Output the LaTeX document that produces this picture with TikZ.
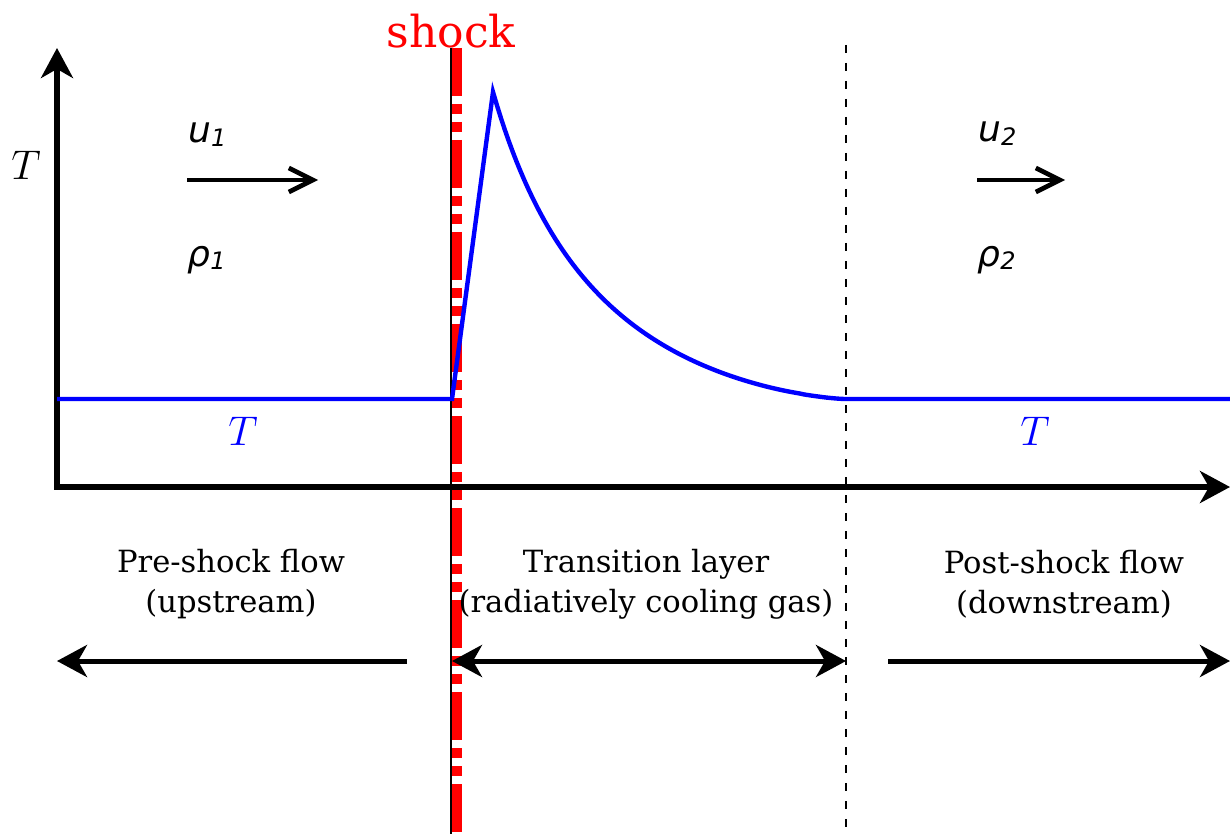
\documentclass[tikz,border=0pt]{standalone}
\usepackage{fontspec}
\setmainfont{DejaVu Serif}
\newfontfamily\dvsans{DejaVu Sans}
\usetikzlibrary{arrows.meta,positioning}
\newcommand{\flowvar}[2]{{\dvsans\itshape #1\raisebox{-0.2ex}{\fontsize{12}{12}\selectfont #2}}}

\begin{document}
\begin{tikzpicture}[
    x=0.5pt, y=-0.5pt,
    axis/.style={
      line width=2.6pt,
      line cap=rect,
      -{Stealth[length=15pt,width=16pt,inset=4.5pt]}
    },
    span/.style={
      line width=2.5pt
    },
    flowarrow/.style={
      line width=2.3pt,
      -{Straight Barb[length=12pt,width=12pt]}
    },
    tcurve/.style={
      blue,
      line width=2.2pt
    },
    regiontext/.style={
      font=\fontsize{15.3}{20}\selectfont,
      align=center,
      inner sep=0pt
    },
    varlbl/.style={
      font=\fontsize{18}{20}\selectfont,
      anchor=base west,
      inner sep=0pt
    },
    tlbl/.style={
      font=\fontsize{20}{22}\selectfont,
      anchor=base,
      inner sep=0pt
    }
  ]
  \useasboundingbox (0,0) rectangle (1230,834);

  % key points
  \coordinate (O) at (57,487);
  \coordinate (ytop) at (57,48);
  \coordinate (xend) at (1230,487);
  \coordinate (shtop) at (451,48);
  \coordinate (shbot) at (451,834);
  \coordinate (rdtop) at (457,48);
  \coordinate (rdbot) at (457,834);
  \coordinate (lytop) at (846,45);
  \coordinate (lybot) at (846,834);

  % shock front and end of the layer
  \draw[line width=1pt] (shtop) -- (shbot);
  \draw[red, line width=4.8pt,
    dash pattern=on 24pt off 4pt on 5pt off 4pt on 5pt off 4pt] (rdtop) -- (rdbot);
  \draw[line width=1pt, dash pattern=on 4pt off 5pt] (lytop) -- (lybot);
  \node[red, font=\fontsize{22}{24}\selectfont, anchor=base, inner sep=0pt]
    (shocklbl) at (451,48) {shock};

  % axes
  \draw[axis] (O) -- (ytop);
  \draw[axis] (O) -- (xend);
  \node[tlbl] (Taxis) at (26,180) {$T$};

  % temperature profile
  \draw[tcurve] (57,399) -- (452,399) -- (493,92)
    -- plot[domain=0:0.995, samples=90, variable=\t]
      ({493+352*\t}, {399-307*(1-\t)^1.4/(1+2.6*\t)})
    -- (845,399) -- (1230,399);
  \node[tlbl, blue] (Tpre) at (243,445) {$T$};
  \node[tlbl, blue] (Tpost) at (1035,445) {$T$};

  % flow variables
  \node[varlbl] (u1) at (188,143) {\flowvar{u}{1}};
  \node[varlbl] (rho1) at (187,266) {\flowvar{ρ}{1}};
  \node[varlbl] (u2) at (978,142) {\flowvar{u}{2}};
  \node[varlbl] (rho2) at (977,266) {\flowvar{ρ}{2}};
  \coordinate (u1a) at (187,180);
  \coordinate (u1b) at (318,180);
  \coordinate (u2a) at (977,180);
  \coordinate (u2b) at (1065,180);
  \draw[flowarrow] (u1a) -- (u1b);
  \draw[flowarrow] (u2a) -- (u2b);

  % regions
  \node[regiontext] (pre) at (231,584) {Pre-shock flow\\(upstream)};
  \node[regiontext] (layer) at (646,584) {Transition layer\\(radiatively cooling gas)};
  \node[regiontext] (post) at (1064,584) {Post-shock flow\\(downstream)};

  \coordinate (preA) at (407,661);
  \coordinate (preB) at (57,661);
  \coordinate (layA) at (452,661);
  \coordinate (layB) at (846,661);
  \coordinate (postA) at (888,661);
  \coordinate (postB) at (1230,661);
  \draw[span, -{Stealth[length=15pt,width=16pt,inset=4.5pt]}] (preA) -- (preB);
  \draw[span, {Stealth[length=15pt,width=16pt,inset=4.5pt]}-{Stealth[length=15pt,width=16pt,inset=4.5pt]}] (layA) -- (layB);
  \draw[span, -{Stealth[length=15pt,width=16pt,inset=4.5pt]}] (postA) -- (postB);

\end{tikzpicture}
\end{document}
